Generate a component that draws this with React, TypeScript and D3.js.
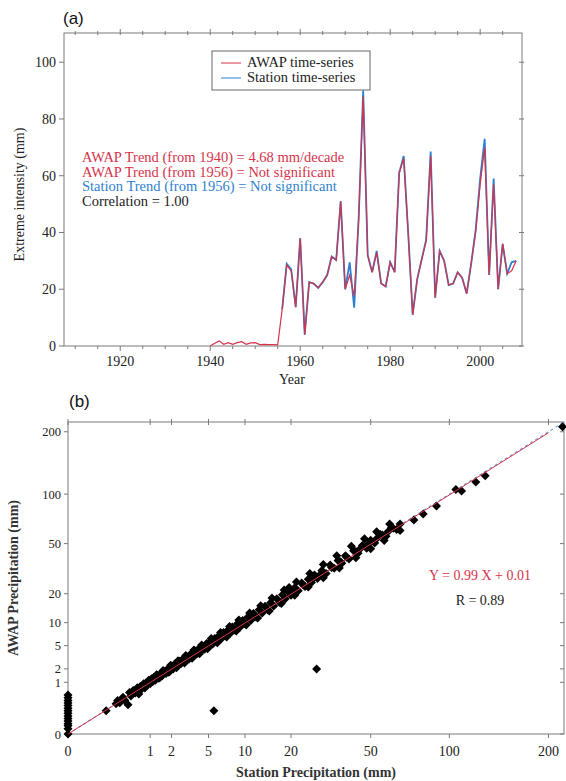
import React from 'react';
import * as d3 from 'd3';

// (a) annual extreme intensity (mm)
const awapStart = 1940;
const awapValues = [
  0, 1.0, 1.8, 0.6, 1.2, 0.6, 1.2, 1.5, 0.6, 1.1,
  1.2, 0.5, 0.6, 0.5, 0.5, 0.4, 13, 28.5, 26.5, 13.7,
  38, 4, 22.5, 22, 20.5, 22.5, 25, 31.5, 30.3, 51,
  20, 25, 17.5, 45, 88, 32, 26, 33, 22, 21,
  29.5, 26, 61, 66, 40, 11, 23.5, 30.5, 37, 67,
  17, 33.5, 30, 21.5, 22, 26, 24, 18.5, 29, 40,
  57, 70, 25, 57, 20, 36, 25.5, 26.5, 30,
];
const stationStart = 1956;
const stationValues = [
  13, 29, 27, 13.7,
  38, 4, 22.5, 22, 20.5, 22.5, 25, 31.5, 30.3, 51,
  20, 29.5, 13.5, 45, 90, 32, 26, 33.5, 22, 21,
  29.5, 26, 61, 67, 40, 11, 23.5, 30.5, 37.5, 68.5,
  17, 33.5, 30, 21.5, 22, 26, 24, 18.5, 29, 41,
  59, 73, 25, 59, 20, 36, 25.5, 29.5, 30,
];
const yearTicks = [1920, 1940, 1960, 1980, 2000];
const intensityTicks = [0, 20, 40, 60, 80, 100];
const trendText = [
  { text: 'AWAP Trend (from 1940) = 4.68 mm/decade', color: '#d6334a' },
  { text: 'AWAP Trend (from 1956) = Not significant', color: '#d6334a' },
  { text: 'Station Trend (from 1956) = Not significant', color: '#2f7fd0' },
  { text: 'Correlation = 1.00', color: '#222' },
];

// (b) daily precipitation, station vs AWAP (mm)
const precipTicks = [0, 1, 2, 5, 10, 20, 50, 100, 200];
const zeroStationAwap = [0, 0.001, 0.004, 0.008, 0.016, 0.027, 0.043, 0.064, 0.09, 0.125, 0.166, 0.216, 0.275, 0.343, 0.43];
const scatterPairs: [number, number][] = [
  [0.1, 0.09], [0.2, 0.2], [0.22, 0.27], [0.25, 0.22], [0.3, 0.36], [0.33, 0.28], [0.39, 0.18], [0.42, 0.52],
  [0.45, 0.4], [0.5, 0.6], [0.55, 0.5], [0.6, 0.72], [0.64, 0.46], [0.68, 0.78], [0.72, 0.66], [0.78, 0.92],
  [0.82, 0.7], [0.86, 0.98], [0.9, 0.85], [0.95, 1.12], [1.0, 0.92], [1.05, 1.22],
  [1.1, 1.05], [1.15, 1.32], [1.2, 1.12], [1.3, 1.47], [1.35, 1.25], [1.45, 1.62], [1.5, 1.42], [1.6, 1.78],
  [1.7, 1.6], [1.8, 2.02], [1.9, 1.8], [2.0, 2.27], [2.1, 2.0], [2.2, 2.48], [2.35, 2.25], [2.5, 2.8],
  [2.6, 2.5], [2.75, 3.08], [2.9, 2.8], [3.0, 3.35], [3.2, 3.05], [3.35, 3.75], [3.5, 3.35], [3.7, 4.15],
  [3.85, 3.7], [4.0, 4.45], [4.2, 4.05], [4.4, 4.9], [4.6, 4.4], [4.8, 5.35], [5.0, 4.8],
  [5.2, 5.8], [5.45, 5.25], [5.7, 6.3], [5.9, 5.7], [6.2, 6.85], [6.5, 6.25], [6.8, 7.55], [7.1, 6.85],
  [7.4, 8.15], [7.7, 7.4], [8.0, 8.85], [8.4, 8.1], [8.8, 9.75], [9.2, 8.9], [9.6, 10.6], [10.0, 9.7],
  [10.5, 11.6], [11.0, 10.6], [11.5, 12.7], [12.0, 11.6], [12.6, 13.9], [13.2, 12.8], [13.8, 15.1], [14.4, 13.9],
  [15.0, 16.4], [15.7, 15.2], [16.4, 17.9], [17.1, 16.5], [17.8, 19.6], [18.5, 17.9], [19.3, 20.9], [20.0, 19.4],
  [21, 22.7], [22, 21.3], [23, 24.9], [24, 23.2], [25, 26.9], [26, 25.2], [27, 29.1], [28, 27.2],
  [29.5, 31.6], [31, 30], [32.5, 34.9], [34, 33], [35.5, 37.9], [37, 36], [38.5, 41.1], [40, 38.8],
  [42, 44.6], [44, 42.8], [46, 48.6], [48, 46.5], [50, 52.6], [52, 50.5], [55, 57.6], [58, 56],
  [61, 63.6], [64, 62],
  // upper edge of the band
  [1.25, 1.5], [1.55, 1.85], [1.95, 2.35], [2.4, 2.85], [2.95, 3.5], [3.6, 4.3], [4.3, 5.1], [5.3, 6.3],
  [6.4, 7.6], [7.6, 9.0], [9.0, 10.7], [10.8, 12.8], [12.9, 15.3], [15.3, 18.2], [18.2, 21.6], [19.5, 22.8],
  [21.5, 25.4], [25.5, 30], [30, 35.3], [35, 41], [41, 48], [47, 54], [53, 60], [60, 67],
  // lower edge of the band
  [1.4, 1.3], [1.85, 1.7], [2.3, 2.1], [2.85, 2.6], [3.45, 3.15], [4.1, 3.75], [4.9, 4.5], [6.0, 5.5],
  [7.2, 6.6], [8.6, 7.9], [10.2, 9.4], [12.3, 11.3], [14.7, 13.5], [17.5, 16.1], [21, 19.3], [25, 23],
  [30, 27.6], [36, 33.2], [43, 39.6], [50, 46], [57, 52.5], [66, 61],
  // centre of the band
  [20.5, 21], [23.5, 24], [26.5, 27], [29, 29.5], [33, 33.5], [36.5, 37], [39, 40], [43, 44],
  [45, 46], [49, 50], [53, 54], [56, 57], [59, 60], [62, 63], [66, 67],
  // sparse high values and outliers
  [74.6, 70.9], [80.8, 77], [90.2, 85.8], [105.2, 106], [109.9, 104], [122.3, 116], [130.9, 124.7],
  [5.6, 0.09], [27.7, 2.0], [218, 210],
];
const fitSlope = 0.99;
const fitIntercept = 0.01;

const serif = '"Liberation Serif", "DejaVu Serif", serif';
const axisColor = '#7a7a7a';
const red = '#d6334a';
const blue = '#2f7fd0';

const App = () => {
  // ---- panel (a)
  const a = { left: 64, right: 522, top: 33, bottom: 346 };
  const x = d3.scaleLinear().domain([1907.5, 2009.3]).range([a.left, a.right]);
  const y = d3.scaleLinear().domain([0, 110.3]).range([a.bottom, a.top]);
  const minorYears = d3.range(1910, 2010, 5);

  const awapLine = d3
    .line<number>()
    .x((d, i) => x(awapStart + i))
    .y((d) => y(d));
  const stationLine = d3
    .line<number>()
    .x((d, i) => x(stationStart + i))
    .y((d) => y(d));

  // ---- panel (b)
  const b = { left: 68, right: 564, top: 422, bottom: 734 };
  const xs = d3.scalePow().exponent(1 / 3).domain([0, 220]).range([b.left, b.right]);
  const ys = d3.scalePow().exponent(1 / 3).domain([0, 220]).range([b.bottom, b.top]);
  const diamond = 'M0,-4.5L4.5,0L0,4.5L-4.5,0Z';
  const fitEnd = 200;

  return (
    <div style={{ position: 'absolute', left: 0, top: 0 }}>
      <svg width={566} height={781} style={{ display: 'block', background: '#fff' }}>
        {/* ===== (a) ===== */}
        <text x={63} y={24} fontFamily='"Liberation Sans", Arial, sans-serif' fontSize={17} fill="#111">
          (a)
        </text>
        <rect x={a.left} y={a.top} width={a.right - a.left} height={a.bottom - a.top} fill="none" stroke={axisColor} strokeWidth={1} />
        {minorYears.map((yr) => {
          const major = yr % 20 === 0;
          return (
            <g key={'xt' + yr}>
              <line x1={x(yr)} x2={x(yr)} y1={a.bottom} y2={a.bottom + (major ? 5 : 3)} stroke={axisColor} />
              <line x1={x(yr)} x2={x(yr)} y1={a.top - (major ? 4 : 2)} y2={a.top + 2} stroke={axisColor} />
            </g>
          );
        })}
        {yearTicks.map((yr) => (
          <text key={'xl' + yr} x={x(yr)} y={366} textAnchor="middle" fontFamily={serif} fontSize={14} fill="#222">
            {yr}
          </text>
        ))}
        {intensityTicks.map((v) => (
          <g key={'yt' + v}>
            <line x1={a.left - 5} x2={a.left} y1={y(v)} y2={y(v)} stroke={axisColor} />
            <line x1={a.right - 3} x2={a.right + 2} y1={y(v)} y2={y(v)} stroke={axisColor} />
            <text x={a.left - 8} y={y(v) + 5} textAnchor="end" fontFamily={serif} fontSize={14} fill="#222">
              {v}
            </text>
          </g>
        ))}
        <text x={292} y={384} textAnchor="middle" fontFamily={serif} fontSize={14} fill="#222">
          Year
        </text>
        <text
          transform={`translate(24, ${(a.top + a.bottom) / 2 + 5}) rotate(-90)`}
          textAnchor="middle"
          fontFamily={serif}
          fontSize={14}
          fill="#222"
        >
          Extreme intensity (mm)
        </text>

        <path d={stationLine(stationValues) || ''} fill="none" stroke={blue} strokeWidth={1.8} />
        <path d={awapLine(awapValues) || ''} fill="none" stroke={red} strokeWidth={1.2} />

        {/* legend */}
        <rect x={212} y={51} width={158} height={39} fill="#fff" stroke="#666" strokeWidth={1} />
        <line x1={221} x2={241} y1={63} y2={63} stroke={red} strokeWidth={1} />
        <line x1={221} x2={241} y1={78} y2={78} stroke={blue} strokeWidth={1} />
        <text x={247} y={67} fontFamily={serif} fontSize={14.5} fill="#222">
          AWAP time-series
        </text>
        <text x={247} y={82} fontFamily={serif} fontSize={14.5} fill="#222">
          Station time-series
        </text>

        {trendText.map((t, i) => (
          <text key={'tr' + i} x={82} y={162 + i * 14.5} fontFamily={serif} fontSize={14.5} fill={t.color}>
            {t.text}
          </text>
        ))}

        {/* ===== (b) ===== */}
        <text x={69} y={407} fontFamily='"Liberation Sans", Arial, sans-serif' fontSize={17} fill="#111">
          (b)
        </text>
        <rect x={b.left} y={b.top} width={b.right - b.left} height={b.bottom - b.top} fill="none" stroke={axisColor} strokeWidth={1} />
        {precipTicks.map((v) => (
          <g key={'pt' + v}>
            <line x1={xs(v)} x2={xs(v)} y1={b.bottom} y2={b.bottom + 4} stroke={axisColor} />
            <line x1={xs(v)} x2={xs(v)} y1={b.top - 3} y2={b.top + 3} stroke={axisColor} />
            <text x={xs(v)} y={756} textAnchor="middle" fontFamily={serif} fontSize={14} fill="#222">
              {v}
            </text>
            <line x1={b.left - 4} x2={b.left} y1={ys(v)} y2={ys(v)} stroke={axisColor} />
            <line x1={b.right - 4} x2={b.right} y1={ys(v)} y2={ys(v)} stroke={axisColor} />
            <text x={b.left - 7} y={ys(v) + 4.5} textAnchor="end" fontFamily={serif} fontSize={12.5} fill="#222">
              {v}
            </text>
          </g>
        ))}
        <text x={316} y={777} textAnchor="middle" fontFamily={serif} fontSize={14} fontWeight="bold" fill="#333">
          Station Precipitation (mm)
        </text>
        <text
          transform={`translate(18, ${(b.top + b.bottom) / 2}) rotate(-90)`}
          textAnchor="middle"
          fontFamily={serif}
          fontSize={14}
          fontWeight="bold"
          fill="#333"
        >
          AWAP Precipitation (mm)
        </text>

        <line x1={xs(0)} y1={ys(0)} x2={xs(220)} y2={ys(220)} stroke="#6aa6dc" strokeWidth={1.2} strokeDasharray="3,3" />
        {zeroStationAwap.map((v, i) => (
          <path key={'z' + i} d={diamond} transform={`translate(${xs(0)},${ys(v)})`} fill="#000" />
        ))}
        {scatterPairs.map(([s, w], i) => (
          <path key={'s' + i} d={diamond} transform={`translate(${xs(s)},${ys(w)})`} fill="#000" />
        ))}
        <line
          x1={xs(0)}
          y1={ys(0)}
          x2={xs(fitEnd)}
          y2={ys(fitSlope * fitEnd + fitIntercept)}
          stroke={red}
          strokeWidth={1}
        />

        <text x={480} y={580} textAnchor="middle" fontFamily={serif} fontSize={14} fill={red}>
          Y = 0.99 X + 0.01
        </text>
        <text x={480} y={605} textAnchor="middle" fontFamily={serif} fontSize={14} fill="#222">
          R = 0.89
        </text>
      </svg>
    </div>
  );
};

export default App;
